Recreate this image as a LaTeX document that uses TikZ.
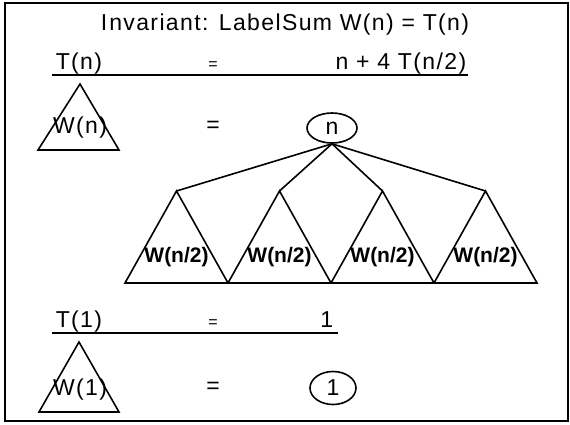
\documentclass[tikz,border=0pt]{standalone}
\usepackage{fontspec}
\setmainfont{Liberation Sans}
\newfontfamily\widesans[LetterSpace=6]{Liberation Sans}
\usetikzlibrary{positioning, shapes.geometric}

\begin{document}
\begin{tikzpicture}[x=1pt, y=-1pt, line width=1.6pt,
    txt/.style={inner sep=0pt, font=\widesans\fontsize{23}{28}\selectfont},
    eqs/.style={inner sep=0pt, font=\fontsize{16}{19}\selectfont},
    lbl/.style={inner sep=0pt, font=\fontsize{21}{25}\selectfont\bfseries},
    val/.style={draw, ellipse, inner sep=0pt, font=\fontsize{23}{28}\selectfont}]
    \useasboundingbox (0,0) rectangle (570,424);
    % Frame
    \draw[line width=2pt] (5,3) rectangle (568,421);
    \node[txt] (title) at (285,25) {I\kern2pt nvariant: LabelSum W(n) = T(n)};

    % Recurrence
    \node[txt, anchor=base west] (tn) at (55,69) {T(n)};
    \node[eqs, anchor=base] (eqa) at (213,69) {=};
    \node[txt, anchor=base east] (rec) at (467,69) {n + 4 T(n/2)};
    \draw[line width=1.8pt] ([shift={(-3,6)}]tn.base west) -- ([shift={(1,6)}]rec.base east);

    % Tree for W(n)
    \draw (80,84) -- (119,150) -- (38,150) -- cycle;
    \node[txt] (wn) at (80,128) {W(n)};
    \node[txt] (eqb) at (213,127) {=};
    \node[val, minimum width=50pt, minimum height=30pt] (root) at (332,128) {n};

    % Four subtrees
    \foreach \i in {1,2,3,4} {
        \coordinate (w\i) at (125+103*\i-51.5,191);
        \draw (root.south) -- (w\i);
        \draw (w\i) -- (125+103*\i,283) -- (125+103*\i-103,283) -- cycle;
        \node[lbl] (l\i) at (125+103*\i-51.5,257) {W(n/2)};
    }

    % Base case
    \node[txt, anchor=base west] (t1) at (55,327) {T(1)};
    \node[eqs, anchor=base] (eqc) at (213,327) {=};
    \node[txt, anchor=base east] (one) at (334,327) {1};
    \draw[line width=1.8pt] ([shift={(-3,6)}]t1.base west) -- ([shift={(4,6)}]one.base east);

    \draw (79,342) -- (119,412) -- (39,412) -- cycle;
    \node[txt] (w1n) at (80,390) {W(1)};
    \node[txt] (eqd) at (213,388) {=};
    \node[val, minimum width=46pt, minimum height=33pt] (leaf) at (333,388) {1};
\end{tikzpicture}
\end{document}
